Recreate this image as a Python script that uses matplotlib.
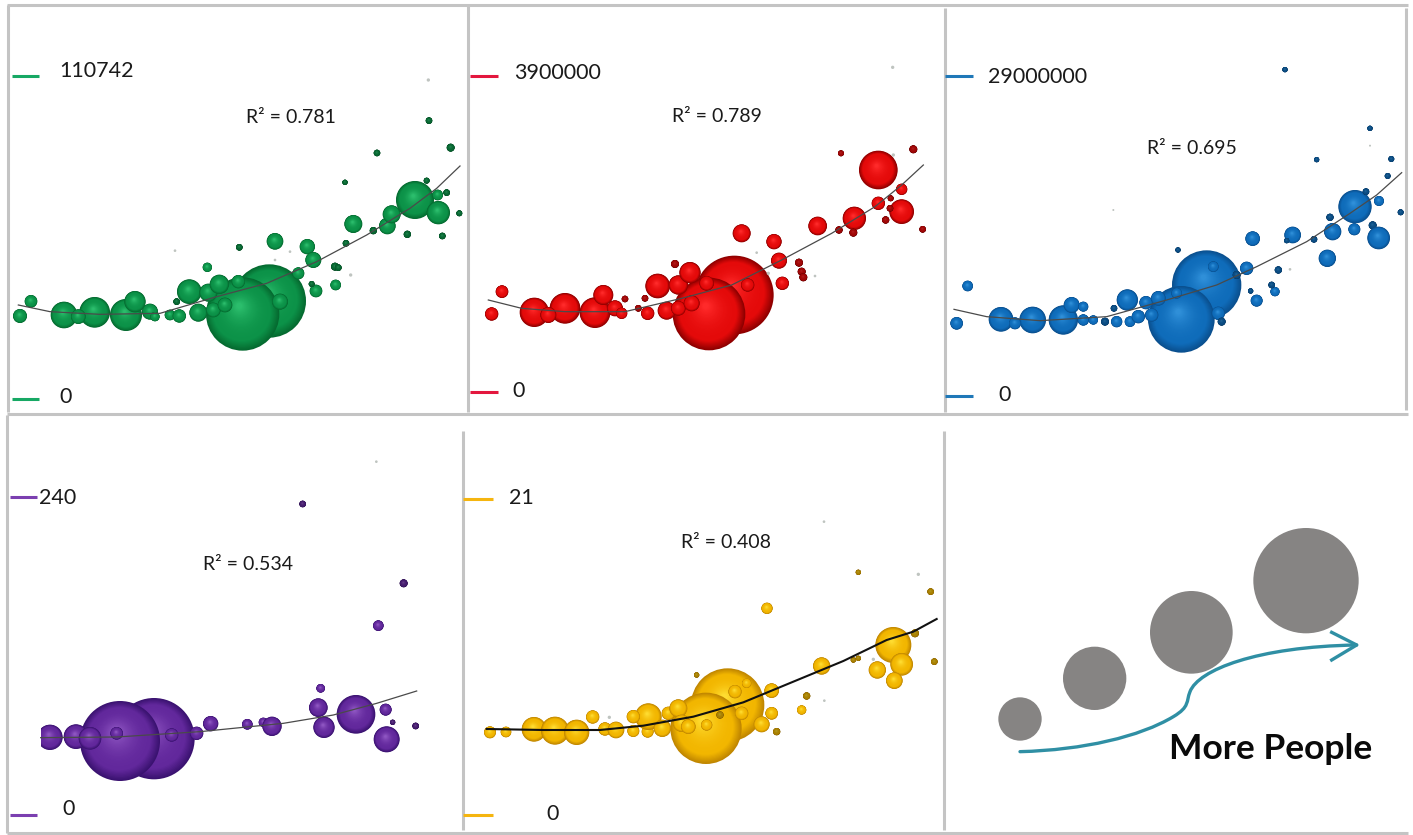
#!/usr/bin/env python3
"""Five bubble panels with trend lines plus a small size key.
Values are read off the picture in panel units (3 units = 1 output pixel)."""

import matplotlib
matplotlib.use('Agg')
import matplotlib.pyplot as plt
from matplotlib.collections import EllipseCollection
from matplotlib.colors import to_rgb
from matplotlib.patches import PathPatch, Rectangle
from matplotlib.path import Path
import numpy as np

W, H = 1413, 835
plt.rcParams['font.family'] = ['Lato', 'DejaVu Sans']

# ── green ──
GREEN_X = [808, 728, 284, 192, 378, 405, 235, 60, 93, 450, 465, 510, 538, 595, 568, 625, 658, 640, 675, 715, 840, 825,
           922, 940, 895, 622, 718, 948, 1007, 1005, 1015, 1060, 1038, 1035, 1131, 1120, 1162, 1175, 1245, 1315, 1313,
           1340, 1280, 1352, 1287, 1378, 1222, 1327, 1285, 530, 525, 825, 870, 1052, 935]
GREEN_Y = [903, 942, 937, 945, 945, 905, 950, 948, 904, 935, 950, 945, 948, 938, 875, 878, 853, 930, 915, 845, 905, 724,
           740, 780, 820, 802, 742, 873, 855, 800, 803, 672, 730, 547, 459, 692, 678, 643, 600, 638, 585,
           578, 542, 443, 362, 640, 703, 708, 240, 905, 752, 780, 755, 825, 852]
GREEN_R = [108, 108, 44, 38, 46, 30, 20, 19, 17, 22, 12, 14, 18, 25, 35, 25, 27, 20, 20, 18, 22, 23,
           21, 22, 16, 12, 8, 17, 14, 10, 8, 25, 8, 6, 8, 9, 23, 25, 55, 33, 14,
           8, 7, 10, 8, 7, 9, 8, 5, 8, 4, 4, 4, 5, 7]
GREEN_TREND_X = [55, 150, 300, 480, 650, 800, 950, 1100, 1230, 1310, 1380]
GREEN_TREND_Y = [915, 935, 943, 940, 890, 850, 785, 705, 625, 565, 498]

# ── red ──
RED_X = [808, 732, 300, 208, 390, 415, 250, 80, 111, 450, 470, 480, 520, 548, 540, 605, 578, 640, 675, 640, 680, 725,
         848, 830, 927, 942, 630, 952, 1002, 1010, 1015, 1058, 1122, 1168, 1165, 1128, 1240, 1345, 1285, 1240, 1310,
         1277, 1310, 1275, 1262, 1373, 1283, 875, 1050, 910]
RED_Y = [885, 942, 925, 937, 938, 885, 945, 942, 875, 925, 940, 897, 925, 940, 895, 932, 858, 855, 818, 925, 910, 850,
         855, 700, 725, 782, 792, 850, 788, 815, 832, 678, 690, 655, 698, 460, 510, 448, 465, 610, 568,
         595, 635, 625, 660, 688, 202, 758, 828, 820]
RED_R = [116, 107, 44, 42, 44, 28, 22, 18, 17, 22, 15, 8, 8, 18, 8, 25, 35, 27, 30, 20, 22, 20,
         18, 25, 21, 22, 10, 18, 10, 10, 10, 26, 9, 33, 10, 7, 56, 10, 5, 18, 15,
         7, 35, 8, 9, 8, 5, 4, 4, 5]
RED_TREND_X = [70, 170, 300, 480, 650, 800, 950, 1100, 1230, 1310, 1375]
RED_TREND_Y = [900, 925, 935, 935, 895, 855, 780, 700, 620, 555, 495]

# ── blue ──
BLUE_X = [800, 724, 278, 183, 370, 395, 225, 50, 83, 430, 430, 460, 495, 530, 570, 595, 562, 618, 655, 635, 710, 820,
          835, 845, 890, 920, 938, 1058, 1040, 950, 932, 1005, 995, 1015, 714, 1122, 1162, 1178, 1170, 1130, 1245,
          1243, 1278, 1317, 1298, 1316, 1290, 1354, 1343, 1382, 1035, 1050, 520, 1290, 522]
BLUE_Y = [855, 958, 960, 958, 960, 915, 970, 970, 858, 920, 960, 960, 965, 965, 965, 950, 900, 908, 895, 945, 880, 800,
          940, 965, 825, 805, 716, 705, 722, 902, 873, 875, 855, 810, 750, 718, 775, 695, 652, 479, 620,
          688, 575, 603, 676, 714, 385, 477, 528, 637, 209, 808, 630, 437, 925]
BLUE_R = [102, 98, 38, 35, 42, 22, 16, 17, 14, 13, 15, 12, 10, 15, 14, 18, 30, 18, 20, 18, 14, 14,
          18, 10, 10, 18, 20, 23, 6, 16, 6, 12, 8, 9, 6, 8, 24, 24, 9, 6, 48,
          16, 8, 13, 10, 32, 6, 7, 7, 7, 6, 4, 3, 3, 8]
BLUE_TREND_X = [42, 140, 300, 500, 680, 830, 950, 1100, 1230, 1310, 1385]
BLUE_TREND_Y = [928, 950, 962, 950, 900, 855, 800, 725, 640, 585, 518]

# ── purple ──
PURPLE_X = [462, 360, 150, 228, 270, 350, 515, 590, 632, 742, 790, 816, 955, 962, 972, 1068, 1157, 1160, 1178, 1247,
            1135, 1211, 908, 1129]
PURPLE_Y = [971, 978, 967, 965, 970, 955, 960, 955, 926, 928, 922, 934, 878, 820, 937, 898, 884, 973, 922, 933,
            632, 505, 267, 140]
PURPLE_R = [120, 118, 36, 35, 32, 17, 18, 18, 21, 14, 12, 27, 26, 11, 30, 56, 16, 37, 6, 8,
            14, 10, 8, 4]
PURPLE_TREND_X = [122, 350, 600, 850, 1000, 1130, 1250]
PURPLE_TREND_Y = [968, 966, 950, 925, 900, 865, 828]

# ── yellow ──
YELLOW_X = [803, 738, 222, 285, 350, 398, 90, 138, 435, 468, 520, 563, 565, 520, 607, 625, 655, 665, 685, 740, 825,
            860, 845, 780, 905, 935, 935, 950, 1025, 1040, 921, 710, 448, 1085, 1300, 1325, 1252, 1303, 1365, 1180,
            1195, 1240, 1423, 1412, 1375, 1195, 1092, 1093]
YELLOW_Y = [870, 940, 943, 947, 952, 906, 952, 951, 942, 945, 948, 950, 905, 905, 940, 895, 880, 925, 935, 930, 830,
            805, 895, 900, 928, 827, 895, 950, 885, 843, 580, 780, 907, 753, 690, 748, 765, 797, 655, 735,
            730, 733, 740, 530, 478, 472, 320, 857]
YELLOW_R = [108, 105, 35, 40, 36, 18, 16, 14, 18, 23, 16, 16, 38, 18, 24, 18, 25, 24, 20, 15, 18,
            12, 18, 9, 22, 20, 17, 9, 12, 9, 15, 6, 5, 24, 52, 32, 24, 23, 10, 6,
            6, 5, 8, 8, 5, 6, 4, 4]
YELLOW_TREND_X = [80, 250, 420, 550, 700, 850, 1000, 1150, 1280, 1360, 1430]
YELLOW_TREND_Y = [942, 945, 945, 932, 905, 862, 800, 738, 675, 650, 612]

# ── size key ──
KEY_X = [240, 464, 754, 1098]
KEY_Y = [912, 790, 652, 497]
KEY_R = [65, 95, 124, 158]

# panel origin/size in pixels, shade colours (dark, base, light), labels
PANELS = [
    dict(box=(0, 0, 475, 420), xs=GREEN_X, ys=GREEN_Y, rs=GREEN_R, tx=GREEN_TREND_X, ty=GREEN_TREND_Y,
         shades=('#056A30', '#0C9248', '#2BBD6C'), tick='#17A864', tick_x=(35, 118), tick_y=(227, 1197),
         top='110742', top_at=(178, 214), zero_at=(178, 1192), r2='R² = 0.781', r2_at=(737, 352)),
    dict(box=(465, 0, 480, 420), xs=RED_X, ys=RED_Y, rs=RED_R, tx=RED_TREND_X, ty=RED_TREND_Y,
         shades=('#8E0000', '#E40A0A', '#FF2A2A'), tick='#E3173E', tick_x=(15, 100), tick_y=(227, 1177),
         top='3900000', top_at=(148, 218), zero_at=(143, 1172), r2='R² = 0.789', r2_at=(620, 350)),
    dict(box=(940, 0, 473, 420), xs=BLUE_X, ys=BLUE_Y, rs=BLUE_R, tx=BLUE_TREND_X, ty=BLUE_TREND_Y,
         shades=('#0A4F8E', '#0F6CBA', '#2F8FD8'), tick='#1F78B8', tick_x=(15, 100), tick_y=(227, 1187),
         top='29000000', top_at=(145, 230), zero_at=(175, 1184), r2='R² = 0.695', r2_at=(620, 445)),
    dict(box=(0, 415, 470, 420), xs=PURPLE_X, ys=PURPLE_Y, rs=PURPLE_R, tx=PURPLE_TREND_X, ty=PURPLE_TREND_Y,
         shades=('#3A1270', '#62289C', '#8E55C2'), tick='#7B3FB0', tick_x=(30, 110), tick_y=(245, 1201),
         top='240', top_at=(118, 248), zero_at=(187, 1182), r2='R² = 0.534', r2_at=(610, 447), clip_left=122),
    dict(box=(460, 415, 490, 420), xs=YELLOW_X, ys=YELLOW_Y, rs=YELLOW_R, tx=YELLOW_TREND_X, ty=YELLOW_TREND_Y,
         shades=('#C08600', '#F2B600', '#FFDC30'), tick='#F5B50F', tick_x=(10, 98), tick_y=(251, 1201),
         top='21', top_at=(148, 248), zero_at=(260, 1197), r2='R² = 0.408', r2_at=(663, 382),
         trend_color='#111111', trend_lw=1.5),
]


def panel_axes(fig, box):
    x0, y0, w, h = box
    ax = fig.add_axes([x0 / W, 1 - (y0 + h) / H, w / W, h / H])
    ax.set_xlim(0, w * 3); ax.set_ylim(h * 3, 0)
    ax.axis('off')
    return ax


def draw_spheres(ax, xs, ys, rs, shades, clip_left=None):
    """Each bubble is a stack of shrinking discs that drift up and to the left."""
    dark, base, light = [np.array(to_rgb(c)) for c in shades]
    ks = np.linspace(1, 0.08, 36)
    wid, off, col = [], [], []
    for x, y, r in zip(xs, ys, rs):
        if r <= 5:   # tiny ones are only a pale speck
            wid.append(2 * r); off.append((x, y)); col.append(to_rgb('#BFC4C0'))
            continue
        r = r + 2    # soft edge of the original
        for i, k in enumerate(ks):
            t = i / (len(ks) - 1)
            if t < 0.22:
                c = dark + (base - dark) * (t / 0.22)
            else:
                c = base + (light - base) * ((t - 0.22) / 0.78) ** 2
            if r <= 12:
                c = c * 0.7   # small dots read much darker
            wid.append(2 * r * k)
            off.append((x - 0.10 * r * (1 - k), y - 0.24 * r * (1 - k)))
            col.append(tuple(c))
    coll = EllipseCollection(wid, wid, np.zeros(len(wid)), units='xy', offsets=off,
                             offset_transform=ax.transData, facecolors=col, edgecolors='none', zorder=3)
    ax.add_collection(coll)
    if clip_left is not None:
        coll.set_clip_path(Rectangle((clip_left, 0), 1500, 1300, transform=ax.transData))


fig = plt.figure(figsize=(W / 100, H / 100), dpi=100, facecolor='white')

# frame lines of the collage
bg = fig.add_axes([0, 0, 1, 1])
bg.set_xlim(0, W); bg.set_ylim(H, 0); bg.axis('off')
for xa, ya, xb, yb in [(7, 5, 1408, 5), (7, 414, 1408, 414), (7, 833, 1408, 833),
                       (8, 5, 8, 412), (468, 5, 468, 412), (945, 8, 945, 412), (1406, 8, 1406, 410),
                       (7, 415, 7, 833), (463, 431, 463, 830), (944, 431, 944, 830)]:
    bg.plot([xa, xb], [ya, yb], color='#C4C4C4', lw=2.2, solid_capstyle='butt')

for p in PANELS:
    ax = panel_axes(fig, p['box'])
    draw_spheres(ax, p['xs'], p['ys'], p['rs'], p['shades'], p.get('clip_left'))
    ax.plot(p['tx'], p['ty'], color=p.get('trend_color', '#4A4A4A'), lw=p.get('trend_lw', 0.9), zorder=4)
    for ty in p['tick_y']:
        ax.plot(p['tick_x'], [ty, ty], color=p['tick'], lw=2.2, zorder=2, solid_capstyle='butt')
    ax.text(*p['top_at'], p['top'], fontsize=15.5, color='#1A1A1A', ha='left', va='center')
    ax.text(*p['zero_at'], '0', fontsize=15.5, color='#1A1A1A', ha='left', va='center')
    ax.text(*p['r2_at'], p['r2'], fontsize=14, color='#1A1A1A', ha='left', va='center')

# size key
key = panel_axes(fig, (940, 415, 473, 420))
wk = [2 * r for r in KEY_R]
key.add_collection(EllipseCollection(wk, wk, np.zeros(4), units='xy', offsets=list(zip(KEY_X, KEY_Y)),
                                     offset_transform=key.transData, facecolors='#868483', edgecolors='none'))
arrow = Path([(240, 1010), (430, 1005), (600, 965), (700, 905),
              (750, 875), (738, 860), (750, 830),
              (775, 765), (950, 695), (1250, 690)],
             [Path.MOVETO] + [Path.CURVE4] * 9)
key.add_patch(PathPatch(arrow, facecolor='none', edgecolor='#2F8FA4', lw=2.4, capstyle='round'))
key.plot([1175, 1250, 1175], [652, 690, 735], color='#2F8FA4', lw=2.4)
key.text(688, 1002, 'More People', fontsize=25.5, fontweight='bold', color='#0A0A0A', ha='left', va='center')

fig.savefig('out.png', dpi=100, facecolor='white')
